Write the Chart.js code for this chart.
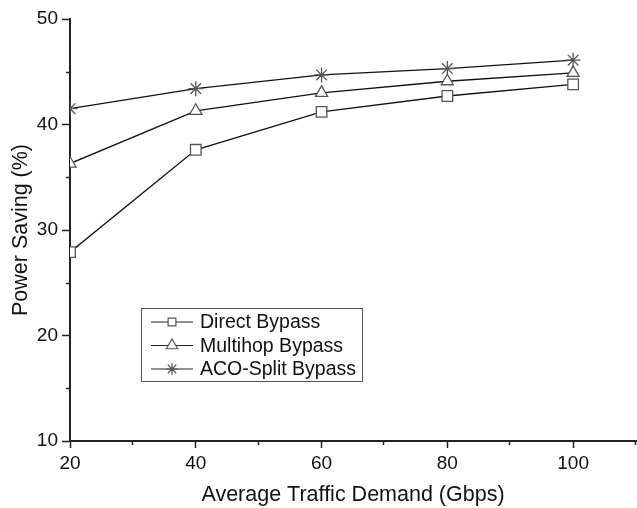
<!DOCTYPE html>
<html lang="en">
<head>
    <meta charset="UTF-8">
    <title>Power Saving vs Traffic Demand</title>
    <script src="https://cdn.jsdelivr.net/npm/chart.js"></script>
    <style>
        html, body {
            margin: 0;
            padding: 0;
            background: #ffffff;
        }
        #wrap {
            width: 637px;
            height: 508px;
        }
    </style>
</head>
<body>
    <div id="wrap"><canvas id="powerChart" width="637" height="508"></canvas></div>

    <script>
        // Data
        const trafficDemand = [20, 40, 60, 80, 100];
        const directBypass = [27.9, 37.6, 41.2, 42.7, 43.8];
        const multihopBypass = [36.3, 41.3, 43.0, 44.1, 44.9];
        const acoSplitBypass = [41.5, 43.4, 44.7, 45.3, 46.1];

        const xTicks = [20, 40, 60, 80, 100];
        const xMinorTicks = [30, 50, 70, 90, 110];
        const yTicks = [10, 20, 30, 40, 50];
        const yMinorTicks = [15, 25, 35, 45];

        const FONT = "'Liberation Sans', Arial, sans-serif";

        function toPoints(values) {
            return trafficDemand.map((x, i) => ({ x: x, y: values[i] }));
        }

        function makeSeries(label, values, style, radius) {
            return {
                label: label,
                data: toPoints(values),
                borderColor: '#111',
                borderWidth: 1.3,
                pointStyle: style,
                pointRadius: radius,
                pointBorderColor: '#555',
                pointBorderWidth: 1.3,
                pointBackgroundColor: '#fff',
                tension: 0
            };
        }

        // minor tick marks drawn from the scales
        const minorTicks = {
            id: 'minorTicks',
            afterDraw(chart) {
                const ctx = chart.ctx;
                const xs = chart.scales.x;
                const ys = chart.scales.y;
                ctx.save();
                ctx.strokeStyle = '#222';
                ctx.lineWidth = 1.5;
                xMinorTicks.forEach(v => {
                    const px = Math.round(xs.getPixelForValue(v)) - 0.5;
                    ctx.beginPath();
                    ctx.moveTo(px, xs.top);
                    ctx.lineTo(px, xs.top + 4);
                    ctx.stroke();
                });
                yMinorTicks.forEach(v => {
                    const py = Math.round(ys.getPixelForValue(v)) + 0.5;
                    ctx.beginPath();
                    ctx.moveTo(ys.right, py);
                    ctx.lineTo(ys.right - 4, py);
                    ctx.stroke();
                });
                ctx.restore();
            }
        };

        // boxed legend inside the plot area
        const legendRadius = [5.5, 6.5, 6];
        const boxLegend = {
            id: 'boxLegend',
            afterDraw(chart) {
                const ctx = chart.ctx;
                const x0 = 141, y0 = 308, w = 221, h = 73, rowH = 23.5;
                ctx.save();
                ctx.fillStyle = '#fff';
                ctx.fillRect(x0, y0, w, h);
                ctx.strokeStyle = '#555';
                ctx.lineWidth = 1;
                ctx.strokeRect(x0 + 0.5, y0 + 0.5, w, h);
                chart.data.datasets.forEach((ds, i) => {
                    const cy = y0 + 14 + i * rowH;
                    ctx.strokeStyle = '#222';
                    ctx.lineWidth = 1.2;
                    ctx.beginPath();
                    ctx.moveTo(x0 + 10, cy);
                    ctx.lineTo(x0 + 52, cy);
                    ctx.stroke();
                    ctx.fillStyle = '#fff';
                    ctx.strokeStyle = '#555';
                    Chart.helpers.drawPoint(ctx, {
                        pointStyle: ds.pointStyle,
                        radius: legendRadius[i],
                        borderWidth: 1
                    }, x0 + 31, cy);
                    ctx.fillStyle = '#111';
                    ctx.font = '19.5px ' + FONT;
                    ctx.textBaseline = 'middle';
                    ctx.fillText(ds.label, x0 + 59, cy + 1);
                });
                ctx.restore();
            }
        };

        const ctx = document.getElementById('powerChart').getContext('2d');
        new Chart(ctx, {
            type: 'line',
            data: {
                datasets: [
                    makeSeries('Direct Bypass', directBypass, 'rect', 7.5),
                    makeSeries('Multihop Bypass', multihopBypass, 'triangle', 7),
                    makeSeries('ACO-Split Bypass', acoSplitBypass, 'star', 7.5)
                ]
            },
            options: {
                responsive: false,
                animation: false,
                layout: { autoPadding: false, padding: { top: 19, right: 1, left: 0, bottom: 0 } },
                plugins: {
                    legend: { display: false },
                    tooltip: { enabled: false }
                },
                scales: {
                    x: {
                        type: 'linear',
                        min: 20,
                        max: 110,
                        afterBuildTicks: s => { s.ticks = xTicks.map(v => ({ value: v })); },
                        afterFit: s => { s.height = 67; },
                        grid: {
                            drawOnChartArea: false,
                            drawTicks: true,
                            tickLength: 7,
                            tickColor: '#222',
                            tickWidth: 1.5
                        },
                        border: { color: '#222', width: 2 },
                        ticks: {
                            color: '#111',
                            font: { family: FONT, size: 19 },
                            padding: 4,
                            maxRotation: 0
                        },
                        title: {
                            display: true,
                            text: 'Average Traffic Demand (Gbps)',
                            color: '#111',
                            font: { family: FONT, size: 21.5 },
                            padding: { top: 4, bottom: 0 }
                        }
                    },
                    y: {
                        type: 'linear',
                        min: 10,
                        max: 50,
                        afterBuildTicks: s => { s.ticks = yTicks.map(v => ({ value: v })); },
                        afterFit: s => { s.width = 70; },
                        grid: {
                            drawOnChartArea: false,
                            drawTicks: true,
                            tickLength: 8,
                            tickColor: '#222',
                            tickWidth: 1.5
                        },
                        border: { color: '#222', width: 2 },
                        ticks: {
                            color: '#111',
                            font: { family: FONT, size: 19 },
                            padding: 4
                        },
                        title: {
                            display: true,
                            text: 'Power Saving (%)',
                            color: '#111',
                            font: { family: FONT, size: 21.5 },
                            padding: { top: 8, bottom: 0 }
                        }
                    }
                }
            },
            plugins: [minorTicks, boxLegend]
        });
    </script>
</body>
</html>
